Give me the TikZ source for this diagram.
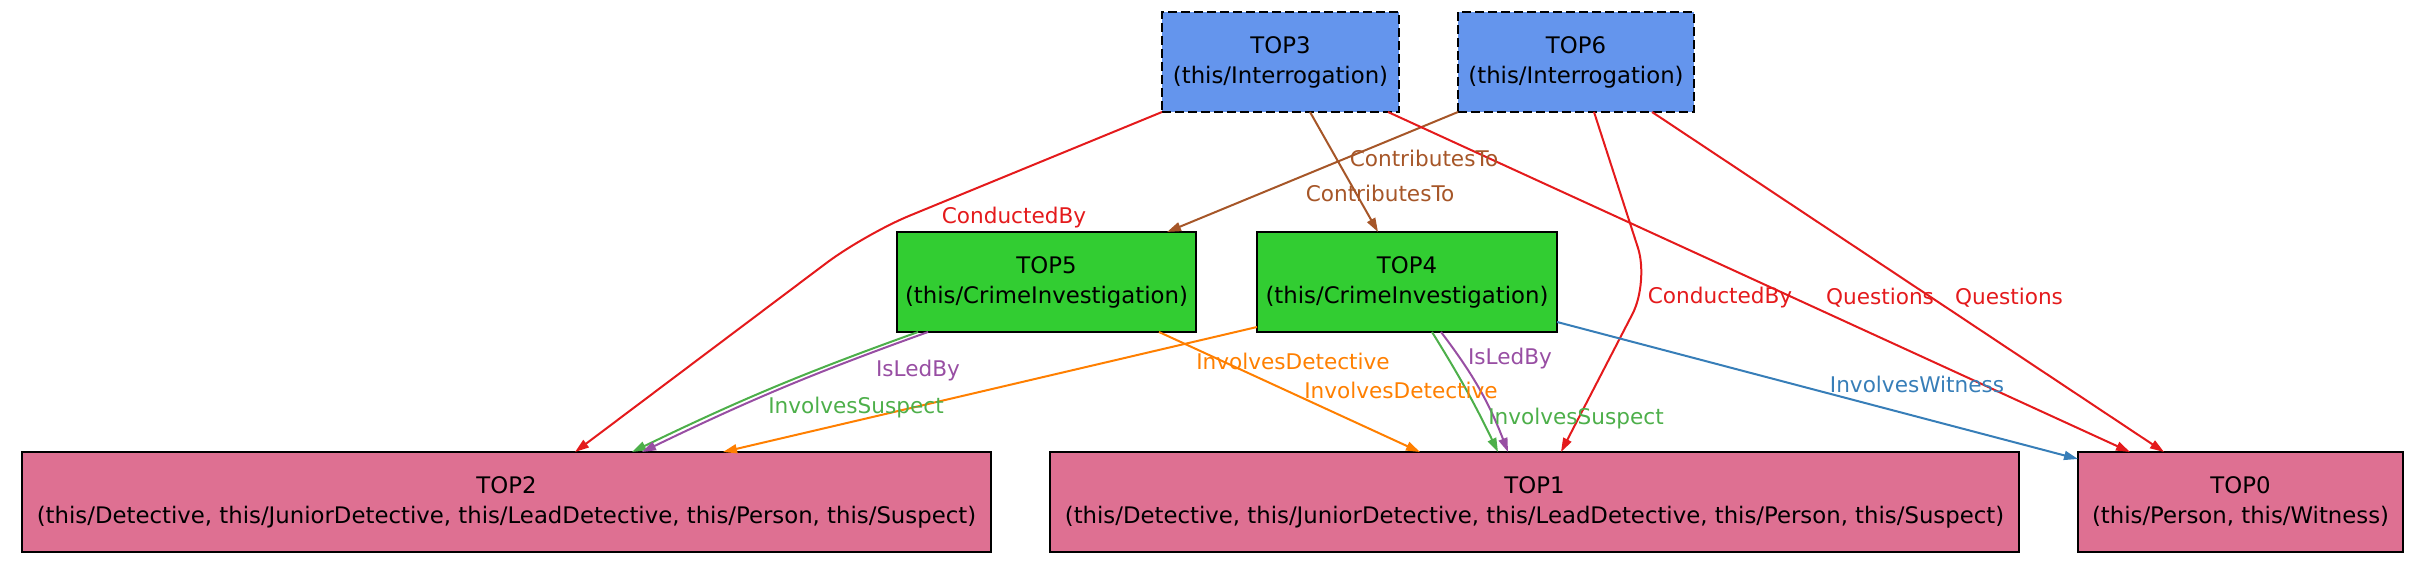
\documentclass[tikz,border=0pt]{standalone}
\usepackage{fontspec}
\setmainfont{DejaVu Sans}
\usetikzlibrary{arrows.meta,calc}
\definecolor{cblue}{HTML}{6495ED}
\definecolor{cgreen}{HTML}{32CD32}
\definecolor{cpink}{HTML}{DE7092}
\definecolor{ered}{HTML}{E41A1C}
\definecolor{ebrown}{HTML}{A65628}
\definecolor{eorange}{HTML}{FF7F00}
\definecolor{egreen}{HTML}{4DAF4A}
\definecolor{epurple}{HTML}{984EA3}
\definecolor{eblue}{HTML}{377EB8}
\begin{document}
\begin{tikzpicture}[x=0.5pt,y=-0.5pt,
  box/.style={draw=black, line width=1.1pt, minimum height=50pt, inner sep=0pt, outer sep=0pt,
              align=center, font=\fontsize{11.4}{15}\selectfont},
  iface/.style={box, fill=cblue, dash pattern=on 4.5pt off 2pt},
  inv/.style={box, fill=cgreen},
  ent/.style={box, fill=cpink},
  edge/.style={line width=1pt, -{Triangle[length=7pt,width=4.5pt]}},
  elabel/.style={font=\fontsize{10.8}{13}\selectfont, inner sep=0pt},
]
\useasboundingbox (0,0) rectangle (2428,572);

% nodes
\node[iface, minimum width=118.5pt] (t3) at (1280.5,62) {TOP3\\(this/Interrogation)};
\node[iface, minimum width=118pt]   (t6) at (1576,62)   {TOP6\\(this/Interrogation)};
\node[inv, minimum width=149.5pt]   (t5) at (1046.5,282) {TOP5\\(this/CrimeInvestigation)};
\node[inv, minimum width=150pt]     (t4) at (1407,282)   {TOP4\\(this/CrimeInvestigation)};
\node[ent, minimum width=484.5pt]   (t2) at (506.5,502)  {TOP2\\(this/Detective, this/JuniorDetective, this/LeadDetective, this/Person, this/Suspect)};
\node[ent, minimum width=484.5pt]   (t1) at (1534.5,502) {TOP1\\(this/Detective, this/JuniorDetective, this/LeadDetective, this/Person, this/Suspect)};
\node[ent, minimum width=162.5pt]   (t0) at (2240.5,502) {TOP0\\(this/Person, this/Witness)};

% edges
\draw[edge, ered, rounded corners=24pt] (t3.south west) -- (865,234) -- ($(t2.north)+(68.5,0)$);
\draw[edge, ebrown] ($(t3.south)+(29.5,0)$) -- ($(t4.north)+(-29,0)$);
\draw[edge, ebrown] (t6.south west) -- ($(t5.north)+(120.5,0)$);
\draw[edge, ered] ($(t3.south)+(107.5,0)$) -- ($(t0.north)+(-110.5,0)$);
\draw[edge, ered] ($(t6.south)+(76,0)$) -- ($(t0.north)+(-76.5,0)$);
\draw[edge, ered, rounded corners=18pt] ($(t6.south)+(18,0)$) -- (1649,282) -- ($(t1.north)+(26.5,0)$);
\draw[edge, egreen] ($(t5.south)+(-128.5,0)$) to[bend right=3] ($(t2.north)+(125.5,0)$);
\draw[edge, epurple] ($(t5.south)+(-118.5,0)$) to[bend right=3] ($(t2.north)+(135.5,0)$);
\draw[edge, eorange] ($(t4.south west)+(0,-5)$) -- ($(t2.north)+(216.5,0)$);
\draw[edge, eorange] ($(t5.south)+(112.5,0)$) -- ($(t1.north)+(-114.5,0)$);
\draw[edge, egreen] ($(t4.south)+(25,0)$) to[bend left=3] ($(t1.north)+(-36.5,0)$);
\draw[edge, epurple] ($(t4.south)+(34,0)$) to[bend left=8] ($(t1.north)+(-26.5,0)$);
\draw[edge, eblue] ($(t4.east)+(0,40)$) -- ($(t0.north west)+(0,7)$);

% edge labels
\node[elabel, text=ered]    (l1)  at (1014,218) {ConductedBy};
\node[elabel, text=ebrown]  (l2)  at (1380,193) {ContributesTo};
\node[elabel, text=ebrown]  (l3)  at (1424,158) {ContributesTo};
\node[elabel, text=ered]    (l4)  at (1880,298) {Questions};
\node[elabel, text=ered]    (l5)  at (2009,298) {Questions};
\node[elabel, text=ered]    (l6)  at (1720,298) {ConductedBy};
\node[elabel, text=egreen]  (l7)  at (856,408)  {InvolvesSuspect};
\node[elabel, text=epurple] (l8)  at (918,371)  {IsLedBy};
\node[elabel, text=eorange] (l9)  at (1293,361) {InvolvesDetective};
\node[elabel, text=eorange] (l10) at (1401,390) {InvolvesDetective};
\node[elabel, text=egreen]  (l11) at (1576,419) {InvolvesSuspect};
\node[elabel, text=epurple] (l12) at (1510,359) {IsLedBy};
\node[elabel, text=eblue]   (l13) at (1917,384) {InvolvesWitness};
\end{tikzpicture}
\end{document}
